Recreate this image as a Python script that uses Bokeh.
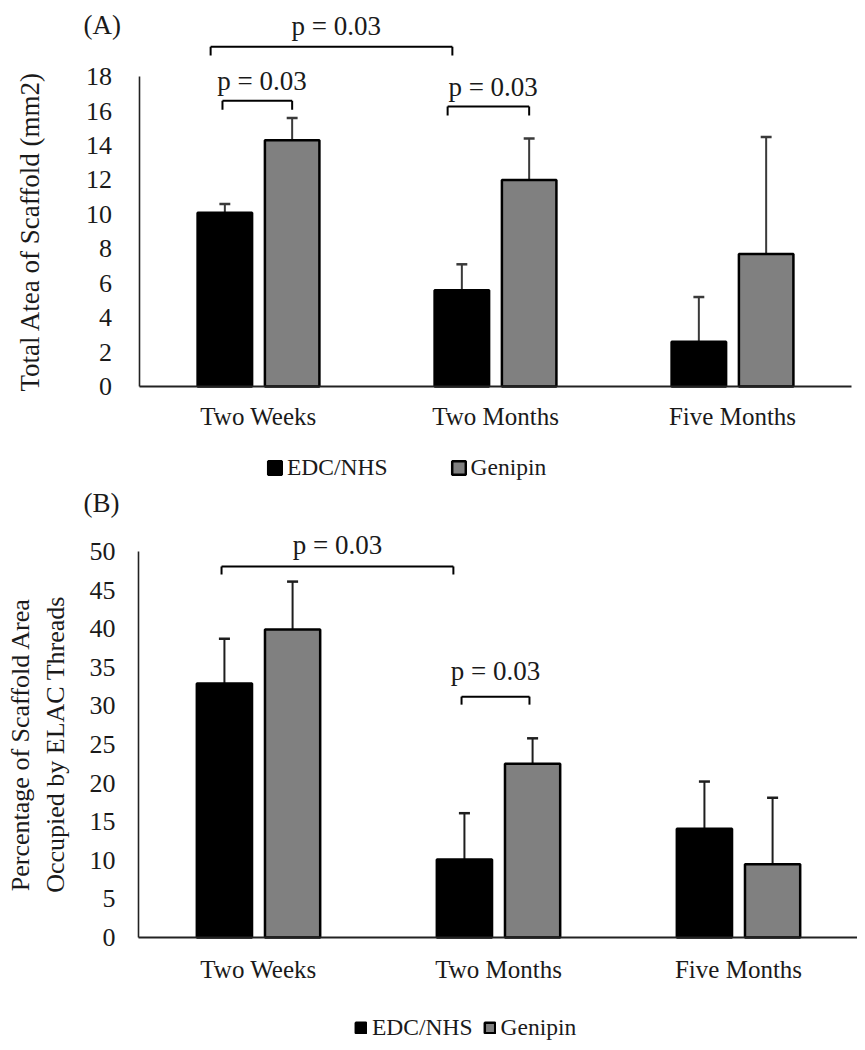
from bokeh.plotting import figure
from bokeh.layouts import column
from bokeh.models import (ColumnDataSource, FixedTicker, Label, Legend,
                          LegendItem, Range1d)
from bokeh.embed import file_html
from bokeh.resources import INLINE

# ---------------- data ----------------
categories = ["Two Weeks", "Two Months", "Five Months"]
series = ["EDC/NHS", "Genipin"]

# Panel A: total area of scaffold (mm2)
area_edc = [10.1, 5.6, 2.6]
area_edc_err = [0.5, 1.5, 2.6]
area_gen = [14.3, 12.0, 7.7]
area_gen_err = [1.3, 2.4, 6.8]
area_ticks = [0, 2, 4, 6, 8, 10, 12, 14, 16, 18]

# Panel B: percentage of scaffold area occupied by ELAC threads
pct_edc = [32.9, 10.1, 14.1]
pct_edc_err = [5.8, 6.0, 6.1]
pct_gen = [39.9, 22.5, 9.5]
pct_gen_err = [6.2, 3.3, 8.6]
pct_ticks = [0, 5, 10, 15, 20, 25, 30, 35, 40, 45, 50]

p_label = "p = 0.03"
# significance comparisons: (category, series) -> (category, series)
area_comparisons = [(("Two Weeks", "EDC/NHS"), ("Two Months", "EDC/NHS")),
                    (("Two Weeks", "EDC/NHS"), ("Two Weeks", "Genipin")),
                    (("Two Months", "EDC/NHS"), ("Two Months", "Genipin"))]
pct_comparisons = [(("Two Weeks", "EDC/NHS"), ("Two Months", "EDC/NHS")),
                   (("Two Months", "EDC/NHS"), ("Two Months", "Genipin"))]

# ---------------- style ----------------
FONT = "Liberation Serif"
TXT = "#1a1a1a"
COLORS = {"EDC/NHS": "#000000", "Genipin": "#808080"}
OFFS = {"EDC/NHS": -0.142, "Genipin": 0.142}
BAR_W = 0.23
CAP = 0.023
cat_pos = [categories.index(c) + 1 for c in categories]


def xpos(cat, s, extra):
    return categories.index(cat) + 1 + OFFS[s] + extra


def make_panel(edc, edc_err, gen, gen_err, ticks, xr, yr, ytitle, tsize,
               tag, tag_xy, comps, brackets, width, height, st):
    p = figure(x_range=Range1d(*xr), y_range=Range1d(*yr),
               width=width, height=height,
               output_backend="svg", toolbar_location=None,
               min_border_left=0, min_border_right=0,
               min_border_top=0, min_border_bottom=0)
    p.outline_line_color = None
    p.xgrid.grid_line_color = None
    p.ygrid.grid_line_color = None
    p.background_fill_color = "white"
    p.border_fill_color = "white"

    rends = {}
    for s, vals, errs in [("EDC/NHS", edc, edc_err), ("Genipin", gen, gen_err)]:
        off = OFFS[s]
        xs = [c + off for c in cat_pos]
        tops = [v + e for v, e in zip(vals, errs)]
        src = ColumnDataSource(dict(x=xs, v=vals, top=tops,
                                    cl=[x - CAP for x in xs],
                                    cr=[x + CAP for x in xs]))
        p.segment(x0="x", y0="v", x1="x", y1="top", source=src,
                  line_color=st["err"], line_width=2)
        p.segment(x0="cl", y0="top", x1="cr", y1="top", source=src,
                  line_color=st["err"], line_width=2.5)
        rends[s] = p.vbar(x="x", top="v", width=BAR_W, source=src,
                          fill_color=COLORS[s], line_color="black",
                          line_width=2.5)

    # significance brackets
    for (a, b), (ea, eb, yb, drop, ty) in zip(comps, brackets):
        xa = xpos(a[0], a[1], ea)
        xb = xpos(b[0], b[1], eb)
        p.segment(x0=[xa, xa, xb], y0=[yb, yb - drop, yb - drop],
                  x1=[xb, xa, xb], y1=[yb, yb, yb],
                  line_color="black", line_width=2)
        p.add_layout(Label(x=(xa + xb) / 2 + st["tx"], y=ty, text=p_label,
                           text_align="center", text_baseline="middle",
                           text_font=FONT, text_font_size="27px",
                           text_color=TXT))

    p.add_layout(Label(x=tag_xy[0], y=tag_xy[1], text=tag, text_align="left",
                       text_baseline="middle", text_font=FONT,
                       text_font_size="27px", text_color=TXT))

    # axes (drawn at fixed data locations)
    yax = p.yaxis[0]
    yax.fixed_location = 0.5
    yax.ticker = FixedTicker(ticks=ticks)
    yax.bounds = (ticks[0], ticks[-1])
    yax.major_tick_line_color = None
    yax.minor_tick_line_color = None
    yax.axis_line_color = "#222222"
    yax.axis_line_width = 1.6
    yax.major_label_text_font = FONT
    yax.major_label_text_font_size = "26px"
    yax.major_label_text_color = TXT
    yax.major_label_standoff = st["ystand"]
    yax.axis_label = ytitle
    yax.axis_label_text_font = FONT
    yax.axis_label_text_font_style = "normal"
    yax.axis_label_text_font_size = tsize
    yax.axis_label_text_color = TXT
    yax.axis_label_standoff = st["tstand"]

    xax = p.xaxis[0]
    xax.fixed_location = 0
    xax.ticker = FixedTicker(ticks=cat_pos)
    xax.major_label_overrides = {c: n for c, n in zip(cat_pos, categories)}
    xax.bounds = (0.5, len(categories) + 0.5)
    xax.major_tick_line_color = None
    xax.minor_tick_line_color = None
    xax.axis_line_color = "#222222"
    xax.axis_line_width = 2
    xax.major_label_text_font = FONT
    xax.major_label_text_font_size = "25px"
    xax.major_label_text_color = TXT
    xax.major_label_standoff = st["xstand"]

    legend = Legend(items=[LegendItem(label=s, renderers=[rends[s]]) for s in series],
                    orientation="horizontal", location=st["loc"],
                    glyph_width=st["g"], glyph_height=st["g"],
                    label_height=st["g"], label_standoff=st["stand"],
                    spacing=st["spacing"], padding=0, margin=0,
                    label_text_font=FONT, label_text_font_size="23.5px",
                    label_text_color=TXT, border_line_color=None,
                    background_fill_alpha=0)
    p.add_layout(legend, "center")
    return p


pA = make_panel(area_edc, area_edc_err, area_gen, area_gen_err, area_ticks,
                (-0.0886, 3.5274), (-5.92, 22.42),
                "Total Atea of Scaffold (mm2)", "27px",
                "(A)", (0.262, 20.99), area_comparisons,
                [(-0.06, -0.04, 19.74, 0.52, 20.96),
                 (-0.01, 0.0, 16.6, 0.52, 17.74),
                 (-0.06, 0.0, 16.26, 0.52, 17.39)],
                857, 488,
                dict(loc=(266, 7), g=17, stand=4, spacing=62, err="#3a3a3a",
                     ystand=22, tstand=38, xstand=10, tx=0.02))

pB = make_panel(pct_edc, pct_edc_err, pct_gen, pct_gen_err, pct_ticks,
                (-0.075, 3.4958), (-14.38, 58.16),
                "Percentage of Scaffold Area\nOccupied by ELAC Threads", "26px",
                "(B)", (0.271, 56.28), pct_comparisons,
                [(-0.012, -0.046, 48.06, 1.04, 50.78),
                 (-0.012, -0.013, 31.2, 1.04, 34.52)],
                857, 560,
                dict(loc=(354, 7), g=13, stand=5, spacing=10, err="#1e1e1e",
                     ystand=17, tstand=17, xstand=13, tx=0.0))

layout = column(pA, pB)
open("out.html", "w").write(file_html(layout, INLINE))
